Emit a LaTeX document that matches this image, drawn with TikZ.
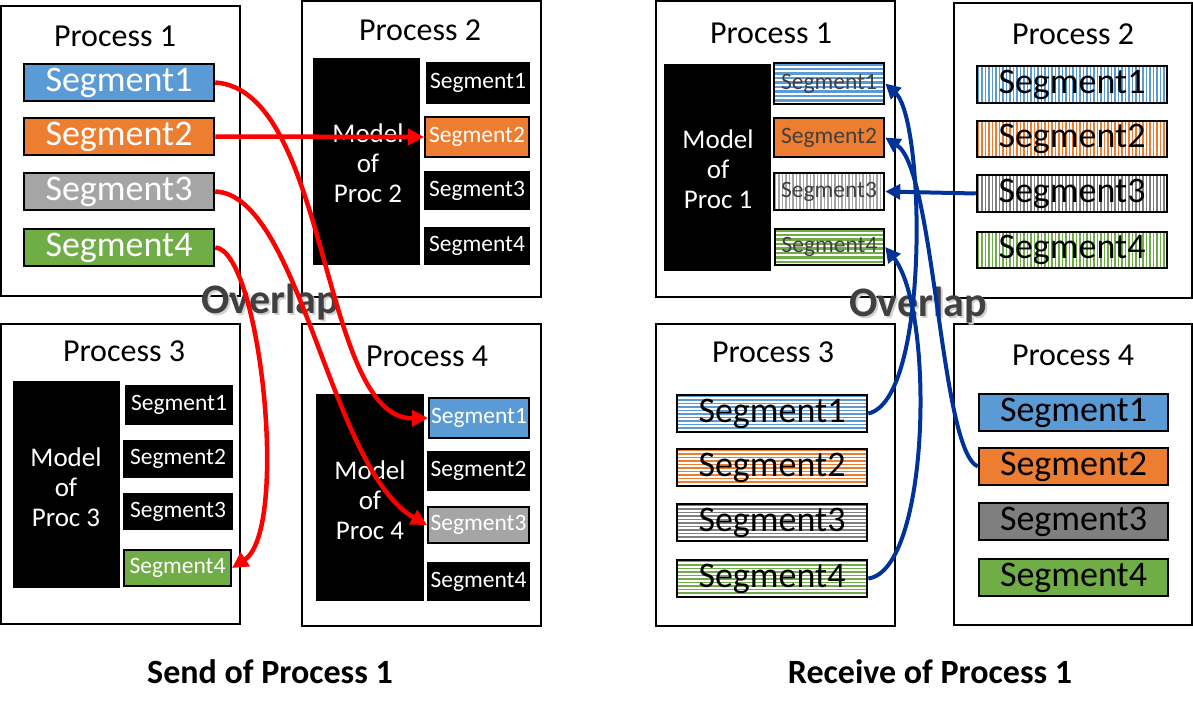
\documentclass[tikz,border=0pt]{standalone}
\usepackage{fontspec}
\setmainfont{Carlito}
\usetikzlibrary{arrows.meta}
\definecolor{sblue}{HTML}{5B9BD5}
\definecolor{sorange}{HTML}{ED7D31}
\definecolor{sgray}{HTML}{A5A5A5}
\definecolor{sgreen}{HTML}{70AD47}
\definecolor{dgray}{HTML}{7F7F7F}
\definecolor{ablue}{HTML}{003399}
\definecolor{tgray}{HTML}{404040}
\tikzset{
  proc/.style={draw=black, line width=2pt, fill=white},
  ptitle/.style={inner sep=0, font=\fontsize{32}{32}\selectfont},
  model/.style={fill=black, text=white, inner sep=0, align=center, font=\fontsize{27}{30}\selectfont},
  bigseg/.style={draw=black, line width=2.5pt, inner sep=0, font=\fontsize{36}{36}\selectfont},
  smallseg/.style={fill=black, text=white, inner sep=0, font=\fontsize{23.5}{24}\selectfont},
  midseg/.style={draw=black, line width=2.5pt, inner sep=0, text=tgray, font=\fontsize{23.5}{24}\selectfont},
  hstripe/.style={fill=white, path picture={
      \foreach \k in {1.5,6,...,46}
        \draw[#1, line width=2.2pt] ([yshift=-\k pt]path picture bounding box.north west) -- ([yshift=-\k pt]path picture bounding box.north east);}},
  hstripefine/.style={fill=white, path picture={
      \foreach \k in {1.5,5,...,42}
        \draw[#1, line width=1.9pt] ([yshift=-\k pt]path picture bounding box.north west) -- ([yshift=-\k pt]path picture bounding box.north east);}},
  vstripe/.style={fill=white, path picture={
      \foreach \k in {1.5,5,...,195}
        \draw[#1, line width=1.9pt] ([xshift=\k pt]path picture bounding box.north west) -- ([xshift=\k pt]path picture bounding box.south west);}},
  ovl/.style={inner sep=0, font=\bfseries\fontsize{42}{42}\selectfont, text=tgray},
  ovlshadow/.style={inner sep=0, font=\bfseries\fontsize{42}{42}\selectfont, text=black!18},
  caption/.style={inner sep=0, font=\bfseries\fontsize{34}{34}\selectfont},
  redarrow/.style={draw=red, line width=4.5pt, -{Triangle[length=16pt,width=16pt]}},
  bluearrow/.style={draw=ablue, line width=4pt, -{Triangle[length=15pt,width=15pt]}},
}
\begin{document}
\begin{tikzpicture}[x=1pt,y=-1pt]
\useasboundingbox[fill=white] (0,0) rectangle (1193,707);

% ================= LEFT: Send of Process 1 =================
\draw[proc] (1,6) rectangle (240,296);
\draw[proc] (302,1) rectangle (541,297);
\draw[proc] (1,324) rectangle (240,624);
\draw[proc] (302,324) rectangle (541,626);

\node[ptitle] (lt1) at (115,36) {Process 1};
\node[ptitle] (lt2) at (420,30) {Process 2};
\node[ptitle] (lt3) at (124,351) {Process 3};
\node[ptitle] (lt4) at (427,356) {Process 4};

% Process 1 segments
\node[bigseg, fill=sblue, text=white, minimum width=190pt, minimum height=37pt] (L1s1) at (119,82.5) {Segment1};
\node[bigseg, fill=sorange, text=white, minimum width=190pt, minimum height=37pt] (L1s2) at (119,136.5) {Segment2};
\node[bigseg, fill=sgray, text=white, minimum width=190pt, minimum height=37pt] (L1s3) at (119,191.5) {Segment3};
\node[bigseg, fill=sgreen, text=white, minimum width=190pt, minimum height=37pt] (L1s4) at (119,247.5) {Segment4};

% Process 2
\node[model, minimum width=107pt, minimum height=207pt] (L2m) at (366.5,161.5) {};
\node[model] (L2mt) at (368,163) {Model\\of\\Proc 2};
\node[smallseg, minimum width=104pt, minimum height=42pt] (L2s1) at (478,83) {Segment1};
\node[smallseg, fill=sorange, draw=black, line width=2pt, minimum width=104pt, minimum height=40pt] (L2s2) at (477,137) {Segment2};
\node[smallseg, minimum width=106pt, minimum height=39pt] (L2s3) at (477,190.5) {Segment3};
\node[smallseg, minimum width=106pt, minimum height=38pt] (L2s4) at (477,246) {Segment4};

% Process 3
\node[model, minimum width=107pt, minimum height=207pt] (L3m) at (66.5,484.5) {};
\node[model] (L3mt) at (66,487) {Model\\of\\Proc 3};
\node[smallseg, minimum width=108pt, minimum height=40pt] (L3s1) at (179,405) {Segment1};
\node[smallseg, minimum width=110pt, minimum height=38pt] (L3s2) at (178,459) {Segment2};
\node[smallseg, minimum width=110pt, minimum height=37pt] (L3s3) at (178,511.5) {Segment3};
\node[smallseg, fill=sgreen, draw=black, line width=2pt, minimum width=107pt, minimum height=36pt] (L3s4) at (177.5,568) {Segment4};

% Process 4
\node[model, minimum width=108pt, minimum height=207pt] (L4m) at (370,497.5) {};
\node[model] (L4mt) at (370,500) {Model\\of\\Proc 4};
\node[smallseg, fill=sblue, draw=black, line width=2pt, minimum width=100pt, minimum height=40pt] (L4s1) at (479,418) {Segment1};
\node[smallseg, minimum width=103pt, minimum height=40pt] (L4s2) at (478.5,471) {Segment2};
\node[smallseg, fill=sgray, draw=black, line width=2pt, minimum width=101pt, minimum height=36pt] (L4s3) at (478.5,525) {Segment3};
\node[smallseg, minimum width=103pt, minimum height=39pt] (L4s4) at (478.5,581.5) {Segment4};

% Overlap label
\node[ovlshadow] at (272,304) {Overlap};
\node[ovl] (lov) at (270,302) {Overlap};

% Red arrows
\draw[redarrow] (L1s2.east) -- (L2s2.west);
\draw[redarrow] (L1s1.east) .. controls (330,90) and (320,420) .. (L4s1.west);
\draw[redarrow] (L1s3.east) .. controls (300,195) and (330,470) .. (L4s3.west);
\draw[redarrow] (L1s4.east) .. controls (260,250) and (290,530) .. (L3s4.east);

\node[caption] (lcap) at (270,672) {Send of Process 1};

% ================= RIGHT: Receive of Process 1 =================
\draw[proc] (656,1) rectangle (895,297);
\draw[proc] (954,3) rectangle (1192,298);
\draw[proc] (656,324) rectangle (895,626);
\draw[proc] (954,324) rectangle (1192,625);

\node[ptitle] (rt1) at (771,33) {Process 1};
\node[ptitle] (rt2) at (1073,34) {Process 2};
\node[ptitle] (rt3) at (773,352) {Process 3};
\node[ptitle] (rt4) at (1073,355) {Process 4};

% Process 1 (receiver)
\node[model, minimum width=107pt, minimum height=207pt] (R1m) at (717.5,167.5) {};
\node[model] (R1mt) at (718,169) {Model\\of\\Proc 1};
\node[midseg, hstripe=sblue, minimum width=110pt, minimum height=41pt] (R1s1) at (829,83.5) {Segment1};
\node[midseg, fill=sorange, minimum width=110pt, minimum height=39pt] (R1s2) at (829,137.5) {Segment2};
\node[midseg, vstripe=sgray, minimum width=110pt, minimum height=37pt] (R1s3) at (829,191.5) {Segment3};
\node[midseg, hstripe=sgreen, minimum width=109pt, minimum height=36pt] (R1s4) at (829.5,247) {Segment4};

% Process 2
\node[bigseg, vstripe=sblue, minimum width=190pt, minimum height=37pt] (R2s1) at (1072,84.5) {Segment1};
\node[bigseg, vstripe=sorange, minimum width=190pt, minimum height=36pt] (R2s2) at (1072,139) {Segment2};
\node[bigseg, vstripe=dgray, minimum width=190pt, minimum height=37pt] (R2s3) at (1072,193.5) {Segment3};
\node[bigseg, vstripe=sgreen, minimum width=190pt, minimum height=36pt] (R2s4) at (1072,250) {Segment4};

% Process 3
\node[bigseg, hstripefine=sblue, minimum width=190pt, minimum height=37pt] (R3s1) at (772,413.5) {Segment1};
\node[bigseg, hstripefine=sorange, minimum width=190pt, minimum height=37pt] (R3s2) at (772,467.5) {Segment2};
\node[bigseg, hstripefine=dgray, minimum width=190pt, minimum height=37pt] (R3s3) at (772,522.5) {Segment3};
\node[bigseg, hstripefine=sgreen, minimum width=190pt, minimum height=37pt] (R3s4) at (772,578.5) {Segment4};

% Process 4
\node[bigseg, fill=sblue, minimum width=189pt, minimum height=37pt] (R4s1) at (1073.5,412.5) {Segment1};
\node[bigseg, fill=sorange, minimum width=189pt, minimum height=37pt] (R4s2) at (1073.5,466.5) {Segment2};
\node[bigseg, fill=dgray, minimum width=189pt, minimum height=37pt] (R4s3) at (1073.5,521.5) {Segment3};
\node[bigseg, fill=sgreen, minimum width=189pt, minimum height=37pt] (R4s4) at (1073.5,577.5) {Segment4};

% Overlap label
\node[ovlshadow] at (920,307) {Overlap};
\node[ovl] (rov) at (918,305) {Overlap};

% Blue arrows
\draw[bluearrow] (R2s3.west) -- (R1s3.east);
\draw[bluearrow] (R3s1.east) .. controls (930,400) and (925,120) .. (R1s1.east);
\draw[bluearrow] (R3s4.east) .. controls (930,570) and (935,310) .. (R1s4.east);
\draw[bluearrow] (R4s2.west) .. controls (940,450) and (935,170) .. (R1s2.east);

\node[caption] (rcap) at (930,672) {Receive of Process 1};
\end{tikzpicture}
\end{document}
